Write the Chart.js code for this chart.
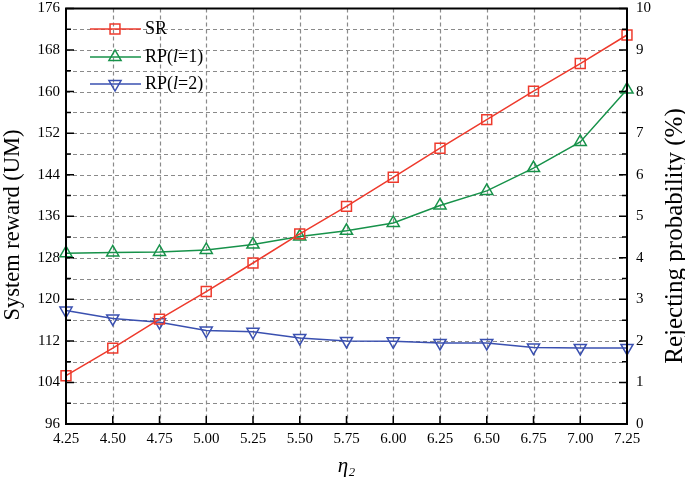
<!DOCTYPE html>
<html>
<head>
<meta charset="utf-8">
<script src="https://cdn.jsdelivr.net/npm/chart.js@4/dist/chart.umd.min.js"></script>
<style>
  body { margin: 0; background: #fff; }
  #wrap { width: 685px; height: 483px; }
</style>
</head>
<body>
<div id="wrap"><canvas id="myChart"></canvas></div>
<script>
// eta_2 values along the x axis
var etaLabels = ['4.25', '4.50', '4.75', '5.00', '5.25', '5.50', '5.75', '6.00', '6.25', '6.50', '6.75', '7.00', '7.25'];
// system reward (left axis)
var srValues = [105.3, 110.6, 116.2, 121.5, 127.0, 132.6, 137.9, 143.5, 149.1, 154.6, 160.1, 165.4, 170.9];
// rejecting probability in % (right axis)
var rp1Values = [4.11, 4.13, 4.14, 4.19, 4.32, 4.51, 4.65, 4.84, 5.26, 5.61, 6.16, 6.79, 8.05];
var rp2Values = [2.73, 2.54, 2.45, 2.25, 2.22, 2.07, 2.00, 1.99, 1.95, 1.95, 1.84, 1.83, 1.83];

var seriesNames = ['SR', 'RP(l=1)', 'RP(l=2)'];
var RED = '#ee3a2c';
var GREEN = '#17924a';
var BLUE = '#3a50b0';
var FONT = "'Liberation Serif', 'Times New Roman', serif";

function drawMarker(ctx, style, x, y, r) {
    ctx.beginPath();
    if (style == 'rect') {
        var s = r * Math.SQRT1_2;
        ctx.rect(x - s, y - s, 2 * s, 2 * s);
    } else {
        var dir = style == 'down' ? -1 : 1;
        ctx.moveTo(x, y - dir * r);
        ctx.lineTo(x - r * 0.866, y + dir * r / 2);
        ctx.lineTo(x + r * 0.866, y + dir * r / 2);
        ctx.closePath();
    }
    ctx.stroke();
}

function drawVerticalTitle(ctx, text, x, y, size) {
    ctx.save();
    ctx.translate(x, y);
    ctx.rotate(-Math.PI / 2);
    ctx.textAlign = 'center';
    ctx.textBaseline = 'middle';
    ctx.fillStyle = '#000';
    ctx.font = size + 'px ' + FONT;
    ctx.fillText(text, 0, 0);
    ctx.restore();
}

// dashed grid behind the lines
var gridPlugin = {
    id: 'dashgrid',
    beforeDatasetsDraw: function(chart) {
        var ctx = chart.ctx;
        var a = chart.chartArea;
        var yl = chart.scales.y;
        var xs = chart.scales.x;
        ctx.save();
        ctx.strokeStyle = '#8a8a8a';
        ctx.lineWidth = 1.2;
        ctx.setLineDash([4, 3]);
        ctx.beginPath();
        for (var v = 100; v < 176; v += 4) {
            var py = Math.round(yl.getPixelForValue(v)) + 0.5;
            ctx.moveTo(a.left, py); ctx.lineTo(a.right, py);
        }
        for (var i = 1; i < etaLabels.length - 1; i++) {
            var px = Math.round(xs.getPixelForValue(i)) + 0.5;
            ctx.moveTo(px, a.top); ctx.lineTo(px, a.bottom);
        }
        ctx.stroke();
        ctx.restore();
    }
};

// frame, inward ticks, legend and axis titles
var decorPlugin = {
    id: 'decor',
    afterDatasetsDraw: function(chart) {
        var ctx = chart.ctx;
        var a = chart.chartArea;
        var yl = chart.scales.y;
        var yr = chart.scales.y2;
        var xs = chart.scales.x;
        ctx.save();
        ctx.strokeStyle = '#000';
        ctx.lineWidth = 1.5;
        ctx.beginPath();
        for (var v = 96; v <= 176; v += 4) {
            var py = yl.getPixelForValue(v);
            var len = (v % 8 == 0) ? 8 : 5;
            ctx.moveTo(a.left, py); ctx.lineTo(a.left + len, py);
        }
        for (var v = 0; v <= 10; v += 0.5) {
            var py = yr.getPixelForValue(v);
            var len = (v % 1 == 0) ? 8 : 5;
            ctx.moveTo(a.right, py); ctx.lineTo(a.right - len, py);
        }
        for (var i = 0; i < etaLabels.length; i++) {
            var px = xs.getPixelForValue(i);
            ctx.moveTo(px, a.bottom); ctx.lineTo(px, a.bottom - 8);
        }
        ctx.stroke();
        ctx.lineWidth = 2;
        ctx.strokeRect(a.left, a.top, a.right - a.left, a.bottom - a.top);

        // legend
        var rows = [
            { color: RED, style: 'rect', y: 29 },
            { color: GREEN, style: 'up', y: 57 },
            { color: BLUE, style: 'down', y: 84 }
        ];
        ctx.lineWidth = 1.5;
        ctx.textBaseline = 'middle';
        ctx.textAlign = 'left';
        for (var r of rows) {
            ctx.strokeStyle = r.color;
            ctx.beginPath();
            ctx.moveTo(90, r.y); ctx.lineTo(141, r.y);
            ctx.stroke();
            drawMarker(ctx, r.style, 115, r.y, 7);
        }
        ctx.fillStyle = '#000';
        ctx.font = '18px ' + FONT;
        ctx.fillText(seriesNames[0], 145, 29);
        [['=1)', 57], ['=2)', 84]].forEach(function(p) {
            var parts = [['RP(', false], ['l', true], [p[0], false]];
            var x = 145;
            for (var s of parts) {
                ctx.font = (s[1] ? 'italic ' : '') + '18px ' + FONT;
                ctx.fillText(s[0], x, p[1]);
                x += ctx.measureText(s[0]).width;
            }
        });
        ctx.restore();

        drawVerticalTitle(ctx, 'System reward (UM)', 13, 225, 22.5);
        drawVerticalTitle(ctx, 'Rejecting probability (%)', 675, 236, 25);
    }
};

var ctx = document.getElementById('myChart');
var rewardChart = new Chart(ctx, {
    type: 'line',
    data: {
        labels: etaLabels,
        datasets: [
            {
                label: seriesNames[0],
                data: srValues,
                yAxisID: 'y',
                borderColor: RED,
                borderWidth: 1.5,
                pointStyle: 'rect',
                pointRadius: 7,
                pointBorderWidth: 1.5,
                pointBorderColor: RED,
                pointBackgroundColor: 'rgba(0,0,0,0)'
            },
            {
                label: seriesNames[1],
                data: rp1Values,
                yAxisID: 'y2',
                borderColor: GREEN,
                borderWidth: 1.5,
                pointStyle: 'triangle',
                pointRadius: 7,
                pointBorderWidth: 1.5,
                pointBorderColor: GREEN,
                pointBackgroundColor: 'rgba(0,0,0,0)'
            },
            {
                label: seriesNames[2],
                data: rp2Values,
                yAxisID: 'y2',
                borderColor: BLUE,
                borderWidth: 1.5,
                pointStyle: 'triangle',
                pointRotation: 180,
                pointRadius: 7,
                pointBorderWidth: 1.5,
                pointBorderColor: BLUE,
                pointBackgroundColor: 'rgba(0,0,0,0)'
            }
        ]
    },
    options: {
        responsive: true,
        maintainAspectRatio: false,
        animation: false,
        layout: { padding: { top: 6 } },
        plugins: {
            legend: { display: false },
            tooltip: { enabled: false }
        },
        scales: {
            x: {
                offset: false,
                grid: { display: false, drawTicks: false },
                border: { display: false },
                ticks: { color: '#000', font: { family: FONT, size: 15 }, padding: 6, maxRotation: 0, autoSkip: false },
                title: { display: true, text: 'η₂', color: '#000', font: { family: FONT, size: 21, style: 'italic' }, padding: { top: 0, bottom: 4 } },
                afterFit: function(s) { s.height = 59; s.paddingLeft = 0; s.paddingRight = 0; }
            },
            y: {
                position: 'left',
                min: 96,
                max: 176,
                grid: { display: false, drawTicks: false },
                border: { display: false },
                ticks: {
                    stepSize: 8,
                    color: '#000',
                    font: { family: FONT, size: 15 },
                    padding: 6
                },
                afterFit: function(s) { s.width = 66; s.paddingTop = 0; s.paddingBottom = 0; }
            },
            y2: {
                position: 'right',
                min: 0,
                max: 10,
                grid: { display: false, drawTicks: false },
                border: { display: false },
                ticks: {
                    stepSize: 1,
                    color: '#000',
                    font: { family: FONT, size: 15 },
                    padding: 9
                },
                afterFit: function(s) { s.width = 58; s.paddingTop = 0; s.paddingBottom = 0; }
            }
        }
    },
    plugins: [gridPlugin, decorPlugin]
});
</script>
</body>
</html>
